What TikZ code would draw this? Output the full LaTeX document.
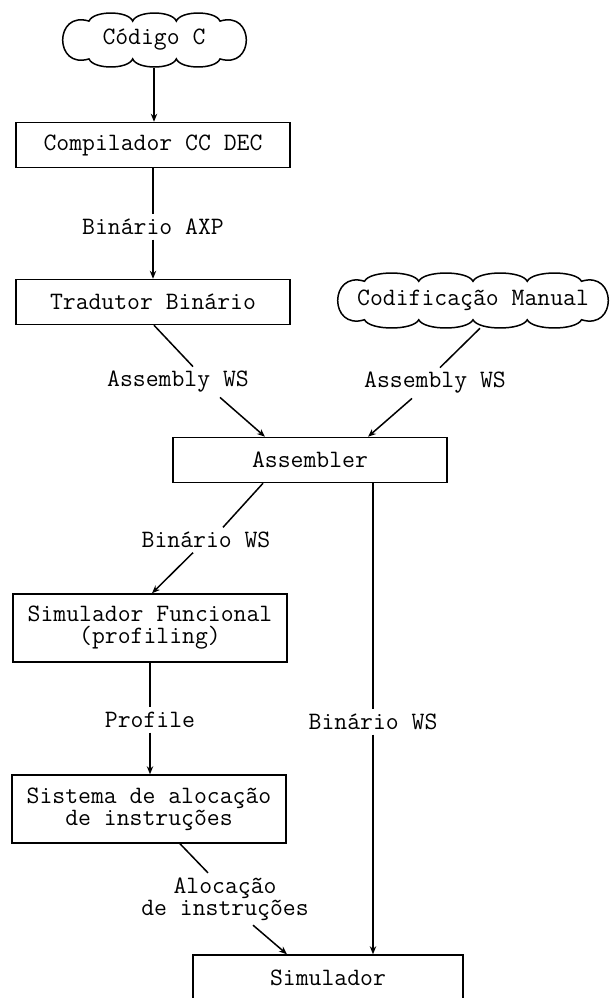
\documentclass[tikz,border=0pt]{standalone}
\usepackage{fontspec}
\usetikzlibrary{arrows.meta}

% contorno de nuvem: xl, xr, ytopo, ybase, bolhas
\newcommand{\nuvemcontorno}[5]{%
  \pgfmathsetmacro\capw{0.5*(#4-#3)}%
  \pgfmathsetmacro\dj{0.15*(#4-#3)}%
  \pgfmathsetmacro\kk{1.33*\dj}%
  \pgfmathsetmacro\bw{(#2-#1-2*\capw)/#5}%
  \draw (#1+\capw,#4-\dj)
    .. controls (#1-0.3*\capw,#4+0.05*#4-0.05*#3) and (#1-0.3*\capw,#3-0.05*#4+0.05*#3) .. (#1+\capw,#3+\dj)
    \foreach \i in {1,...,#5}{ .. controls +(0.1*\bw,-\kk) and +(-0.1*\bw,-\kk) .. (#1+\capw+\i*\bw,#3+\dj) }
    .. controls (#2+0.3*\capw,#3-0.05*#4+0.05*#3) and (#2+0.3*\capw,#4+0.05*#4-0.05*#3) .. (#2-\capw,#4-\dj)
    \foreach \i in {1,...,#5}{ .. controls +(-0.1*\bw,\kk) and +(0.1*\bw,\kk) .. (#2-\capw-\i*\bw,#4-\dj) }
    -- cycle;}

\begin{document}
\begin{tikzpicture}[x=0.5pt,y=-0.5pt,
  line width=0.75pt, >={Stealth[length=4pt,width=3.2pt]},
  every node/.style={font={\fontsize{12.5}{11}\ttfamily}},
  caixa/.style={draw, rectangle, minimum width=137pt, minimum height=22.5pt, inner sep=2pt, align=center},
  nuvem/.style={rectangle, inner sep=1pt},
  rotulo/.style={inner sep=2pt, align=center}]
%\draw [lightgray](0,0) grid (610,998);
\useasboundingbox (0,0) rectangle (610,998);

\node [nuvem, minimum width=92.5pt, minimum height=27pt] (codigo) at (154,40) {Código C};
\nuvemcontorno{62}{247}{13}{67}{3}
\node [caixa] (comp) at (153,145) {Compilador CC DEC}; % compilador
\draw [->](codigo.south) -- (codigo.south |- comp.north);

\node [rotulo] (binAXP) at (153,227) {Binário AXP};
\draw (comp.south) -- (binAXP.north);

\node [caixa] (trad) at (153,302) {Tradutor Binário}; % tradutor
\draw [->](binAXP.south) -- (trad.north);

\node [nuvem, minimum width=136.5pt, minimum height=27.5pt] (codman) at (473,300) {Codificação Manual};
\nuvemcontorno{337}{609}{273}{328}{4}

\node [rotulo] (asmL) at (178,382) {Assembly WS};
\node [rotulo] (asmR) at (435,383) {Assembly WS};
\draw ([shift={(1,0)}]trad.south) -- ([shift={(15,0)}]asmL.north);
\draw ([shift={(7,0)}]codman.south) -- ([shift={(5,0)}]asmR.north);

\node [caixa] (asm) at (310,460) {Assembler}; % assembler
\draw [->]([shift={(42,0)}]asmL.south) -- ([shift={(-45,0)}]asm.north);
\draw [->]([shift={(-23,0)}]asmR.south) -- ([shift={(58,0)}]asm.north);

\node [rotulo] (binWS1) at (206,540) {Binário WS};
\draw ([shift={(-47,0)}]asm.south) -- ([shift={(17,0)}]binWS1.north);

\node [caixa, minimum height=34pt] (simf) at (150,628) {Simulador Funcional\\(profiling)}; % simulador funcional
\draw [->]([shift={(-13,0)}]binWS1.south) -- ([shift={(2,0)}]simf.north);

\node [rotulo] (prof) at (150,720) {Profile};
\draw (simf.south) -- (prof.north);

\node [caixa, minimum height=34pt] (sist) at (149,809) {Sistema de alocação\\de instruções}; % alocacao
\draw [->](prof.south) -- (prof.south |- sist.north);

\node [rotulo] (binWS2) at (373,722) {Binário WS};
\draw (asm.south -| binWS2) -- (binWS2.north);

\node [rotulo] (aloc) at (225,899) {Alocação\\de instruções};
\draw ([shift={(31,0)}]sist.south) -- ([shift={(-17,0)}]aloc.north);

\node [caixa, minimum width=135pt, minimum height=23pt] (sim) at (328,978) {Simulador}; % simulador
\draw [->]([shift={(28,0)}]aloc.south) -- ([shift={(-41,0)}]sim.north);
\draw [->](binWS2.south) -- (binWS2.south |- sim.north);

\end{tikzpicture}
\end{document}
